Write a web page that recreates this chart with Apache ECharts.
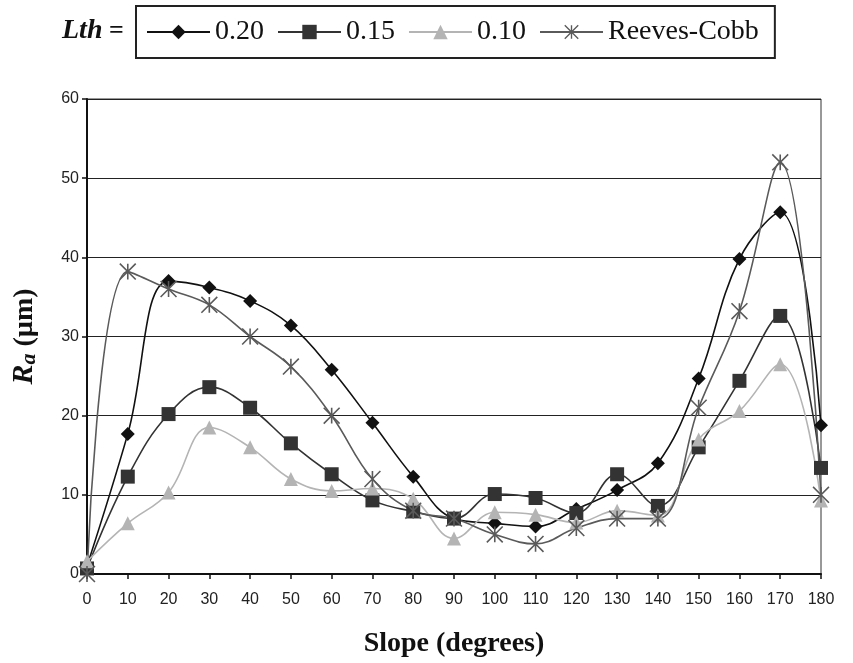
<!DOCTYPE html>
<html>
<head>
<meta charset="utf-8">
<script src="https://cdn.jsdelivr.net/npm/echarts@6/dist/echarts.min.js"></script>
<style>
  html, body { margin: 0; padding: 0; background: #fff; }
  #chart { width: 853px; height: 663px; }
</style>
</head>
<body>
<div id="chart"></div>
<script>
// slope (degrees)
const slopes = [0, 10, 20, 30, 40, 50, 60, 70, 80, 90, 100, 110, 120, 130, 140, 150, 160, 170, 180];
// Ra values
const lth020 = [1.0, 17.7, 37.0, 36.2, 34.5, 31.4, 25.8, 19.1, 12.3, 7.0, 6.4, 6.0, 8.2, 10.6, 14.0, 24.7, 39.8, 45.7, 18.8];
const lth015 = [0.7, 12.3, 20.2, 23.6, 21.0, 16.5, 12.6, 9.3, 7.9, 7.0, 10.1, 9.6, 7.7, 12.6, 8.6, 16.0, 24.4, 32.6, 13.4];
const lth010 = [1.6, 6.4, 10.3, 18.5, 16.0, 12.0, 10.5, 10.8, 9.5, 4.5, 7.8, 7.5, 6.5, 8.0, 7.4, 17.0, 20.6, 26.5, 9.3];
const reevesCobb = [0.0, 38.2, 36.0, 34.0, 30.0, 26.2, 20.0, 12.0, 8.0, 7.0, 5.0, 3.8, 5.8, 7.0, 7.0, 21.0, 33.2, 52.0, 10.0];
const yTicks = [0, 10, 20, 30, 40, 50, 60];

// asterisk marker: vertical bar + two diagonals
const asterisk = 'path://M-1,-10L1,-10L1,10L-1,10Z' +
  'M-9.3,-10.7L10.7,9.3L9.3,10.7L-10.7,-9.3Z' +
  'M10.7,-9.3L-9.3,10.7L-10.7,9.3L9.3,-10.7Z';

const pairs = (vals) => slopes.map((s, i) => [s, vals[i]]);

const chart = echarts.init(document.getElementById('chart'));

const mkSeries = (name, vals, color, symbol, size) => ({
  name: name,
  type: 'line',
  data: pairs(vals),
  smooth: 0.4,
  symbol: symbol,
  symbolSize: size,
  showAllSymbol: true,
  lineStyle: { color: color, width: 1.6 },
  itemStyle: { color: color, borderWidth: 0 },
  emphasis: { disabled: true },
});

const option = {
  animation: false,
  backgroundColor: '#fff',
  grid: {
    left: 87, right: 32, top: 99, bottom: 87,
    show: true, borderColor: '#333', borderWidth: 1,
  },
  graphic: [{
    type: 'text',
    left: 62, top: 17,
    style: {
      text: '{i|Lth}{e| =}',
      rich: {
        i: { fontFamily: 'Liberation Serif', fontSize: 28, fontWeight: 'bold', fontStyle: 'italic', fill: '#111' },
        e: { fontFamily: 'Liberation Serif', fontSize: 26, fontWeight: 'bold', fill: '#111' },
      },
    },
  }],
  legend: {
    left: 136, top: 6,
    itemWidth: 63, itemHeight: 18, itemGap: 13,
    borderColor: '#222', borderWidth: 2,
    padding: [12, 16, 12, 10],
    lineStyle: { width: 2 },
    textStyle: { fontFamily: 'Liberation Serif', fontSize: 28, color: '#111' },
    data: ['0.20', '0.15', '0.10', 'Reeves-Cobb'],
  },
  xAxis: {
    type: 'value',
    min: 0, max: 180, interval: 10,
    name: 'Slope (degrees)',
    nameLocation: 'middle',
    nameGap: 56,
    nameTextStyle: { fontFamily: 'Liberation Serif', fontSize: 28, fontWeight: 'bold', color: '#111' },
    axisLine: { show: true, lineStyle: { color: '#111', width: 2 } },
    axisTick: { show: true, inside: false, length: 5, lineStyle: { color: '#111', width: 1.5 } },
    axisLabel: { fontFamily: 'Liberation Sans', fontSize: 16, color: '#222', margin: 18 },
    splitLine: { show: false },
  },
  yAxis: {
    type: 'value',
    min: yTicks[0], max: yTicks[yTicks.length - 1], interval: 10,
    name: '{r|R}{a|a}{u| (µm)}',
    nameLocation: 'middle',
    nameGap: 47,
    nameTextStyle: {
      rich: {
        r: { fontFamily: 'Liberation Serif', fontSize: 30, fontWeight: 'bold', fontStyle: 'italic', color: '#111' },
        a: { fontFamily: 'Liberation Serif', fontSize: 22, fontWeight: 'bold', fontStyle: 'italic', color: '#111', padding: [9, 0, 0, 0] },
        u: { fontFamily: 'Liberation Serif', fontSize: 28, fontWeight: 'bold', color: '#111' },
      },
    },
    axisLine: { show: true, lineStyle: { color: '#111', width: 2 } },
    axisTick: { show: true, inside: false, length: 5, lineStyle: { color: '#111', width: 1.5 } },
    axisLabel: { fontFamily: 'Liberation Sans', fontSize: 16, color: '#222', margin: 8 },
    splitLine: { show: true, lineStyle: { color: '#222', width: 1 } },
  },
  series: [
    mkSeries('0.20', lth020, '#111111', 'diamond', 14),
    mkSeries('0.15', lth015, '#333333', 'rect', 14),
    mkSeries('0.10', lth010, '#b4b4b4', 'triangle', 14),
    mkSeries('Reeves-Cobb', reevesCobb, '#5a5a5a', asterisk, 17),
  ],
};

chart.setOption(option);
</script>
</body>
</html>
